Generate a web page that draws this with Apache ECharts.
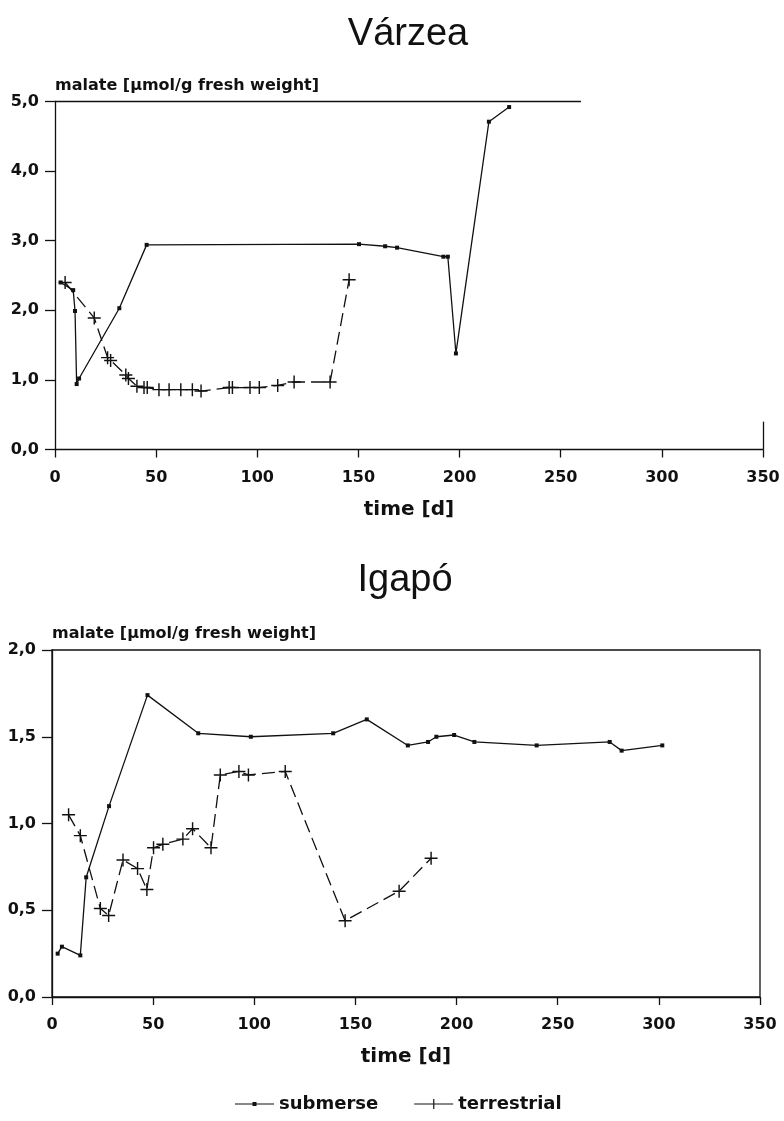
<!DOCTYPE html>
<html>
<head>
<meta charset="utf-8">
<script src="https://cdn.jsdelivr.net/npm/echarts@6/dist/echarts.min.js"></script>
<style>
html,body{margin:0;padding:0;background:#fff;}
#c{width:784px;height:1121px;}
</style>
</head>
<body>
<div id="c"></div>
<script>
// ---- Data ----
const xTicks = [0, 50, 100, 150, 200, 250, 300, 350];

// Várzea – submerse
const varSubDays = [2.8, 9.0, 9.9, 10.7, 11.9, 31.8, 45.3, 150.3, 163.2, 169.1, 192.0, 194.2, 198.2, 214.5, 224.5];
const varSubVals = [2.40, 2.29, 1.99, 0.94, 1.02, 2.03, 2.94, 2.95, 2.92, 2.90, 2.77, 2.77, 1.38, 4.71, 4.92];
// Várzea – terrestrial
const varTerDays = [5.0, 19.4, 26.0, 27.5, 35.0, 36.3, 40.5, 44.0, 45.6, 51.4, 56.4, 62.2, 67.9, 72.2, 86.1, 87.7, 96.4, 101.0, 110.1, 118.2, 136.0, 145.4];
const varTerVals = [2.40, 1.89, 1.32, 1.28, 1.07, 1.02, 0.91, 0.89, 0.89, 0.86, 0.86, 0.86, 0.86, 0.84, 0.89, 0.89, 0.89, 0.89, 0.92, 0.97, 0.97, 2.44];

// Igapó – submerse
const igaSubDays = [2.8, 4.9, 14.0, 16.9, 28.2, 47.2, 72.3, 98.3, 139.0, 155.6, 175.9, 185.9, 190.0, 198.8, 208.8, 239.6, 275.7, 281.6, 301.7];
const igaSubVals = [0.25, 0.29, 0.24, 0.69, 1.10, 1.74, 1.52, 1.50, 1.52, 1.60, 1.45, 1.47, 1.50, 1.51, 1.47, 1.45, 1.47, 1.42, 1.45];
// Igapó – terrestrial
const igaTerDays = [8.2, 14.0, 23.9, 28.0, 35.1, 42.3, 46.9, 50.2, 54.8, 64.7, 69.5, 78.6, 83.2, 92.4, 97.1, 115.3, 144.9, 171.6, 187.4];
const igaTerVals = [1.05, 0.93, 0.51, 0.47, 0.79, 0.74, 0.62, 0.86, 0.88, 0.91, 0.97, 0.86, 1.28, 1.30, 1.28, 1.30, 0.44, 0.61, 0.80];

// Partial frame of the upper panel (in data units)
const varFrameTop = [[0, 5], [260, 5]];
const varFrameRight = [[350, 0], [350, 0.4]];

const titles = ['Várzea', 'Igapó'];
const yName = 'malate [µmol/g fresh weight]';
const xName = 'time [d]';
const seriesNames = ['submerse', 'terrestrial'];

// ---- Build ----
const pairs = (xs, ys) => xs.map((x, i) => [x, ys[i]]);
const FONT = "'DejaVu Sans', 'Liberation Sans', Arial, sans-serif";
const TFONT = "'Liberation Sans', Arial, sans-serif";
const INK = '#111';
const crossPath = 'path://M0,4.45H10V5.55H0Z M4.45,0H5.55V10H4.45Z';
const legendSubIcon = 'path://M0,4.4H39V5.6H0Z M17.5,3H21.5V7H17.5Z M0,0H0.01V0.01H0Z M0,10H0.01V9.99H0Z';
const legendTerIcon = 'path://M0,4.4H39V5.6H0Z M19,0H20.2V10H19Z';

function xAxisCfg(gridIndex) {
  return {
    type: 'value', gridIndex, min: xTicks[0], max: xTicks[xTicks.length - 1], interval: 50,
    name: xName, nameLocation: 'middle', nameGap: 50,
    nameTextStyle: { fontFamily: FONT, fontWeight: 'bold', fontSize: 20, color: INK },
    axisLine: { show: true, onZero: false, lineStyle: { color: INK, width: 1.3 } },
    axisTick: { show: true, inside: false, length: 8, lineStyle: { color: INK, width: 1.3 } },
    axisLabel: { fontFamily: FONT, fontWeight: 'bold', fontSize: 16, color: INK, margin: 20 },
    splitLine: { show: false }
  };
}
function yAxisCfg(gridIndex, max, interval) {
  return {
    type: 'value', gridIndex, min: 0, max, interval,
    name: yName, nameLocation: 'end', nameGap: 8,
    nameTextStyle: { fontFamily: FONT, fontWeight: 'bold', fontSize: 16, color: INK, align: 'left', verticalAlign: 'bottom' },
    axisLine: { show: true, onZero: false, lineStyle: { color: INK, width: 1.3 } },
    axisTick: { show: true, inside: false, length: 10, lineStyle: { color: INK, width: 1.3 } },
    axisLabel: { fontFamily: FONT, fontWeight: 'bold', fontSize: 16, color: INK, margin: 16,
      formatter: v => v.toFixed(1).replace('.', ',') },
    splitLine: { show: false }
  };
}
function subSeries(idx, data, extra) {
  return Object.assign({
    name: seriesNames[0], type: 'line', xAxisIndex: idx, yAxisIndex: idx, data,
    symbol: 'rect', symbolSize: 4, showSymbol: true,
    itemStyle: { color: INK },
    lineStyle: { color: INK, width: 1.3, type: 'solid' },
    animation: false, silent: true
  }, extra || {});
}
function terSeries(idx, data) {
  return {
    name: seriesNames[1], type: 'line', xAxisIndex: idx, yAxisIndex: idx, data,
    symbol: crossPath, symbolSize: 13, showSymbol: true,
    itemStyle: { color: INK },
    lineStyle: { color: INK, width: 1.3, type: [13, 6] },
    animation: false, silent: true
  };
}

const option = {
  backgroundColor: '#fff',
  animation: false,
  textStyle: { fontFamily: FONT },
  grid: [
    { left: 55, right: 21, top: 101.5, bottom: 671.5, show: false },
    { left: 52, right: 24, top: 650, bottom: 124, show: true, borderColor: INK, borderWidth: 1.3, backgroundColor: 'transparent' }
  ],
  xAxis: [xAxisCfg(0), xAxisCfg(1)],
  yAxis: [yAxisCfg(0, 5, 1), yAxisCfg(1, 2, 0.5)],
  legend: {
    bottom: 3, left: 230, itemGap: 36, itemWidth: 39, itemHeight: 12,
    data: [
      { name: seriesNames[0], icon: legendSubIcon },
      { name: seriesNames[1], icon: legendTerIcon }
    ],
    itemStyle: { color: INK, borderWidth: 0 },
    textStyle: { fontFamily: FONT, fontWeight: 'bold', fontSize: 18, color: INK }
  },
  graphic: [
    { type: 'text', x: 408, top: 16, style: { text: titles[0], font: "38px " + TFONT, fill: INK, textAlign: 'center' } },
    { type: 'text', x: 405, top: 562, style: { text: titles[1], font: "38px " + TFONT, fill: INK, textAlign: 'center' } }
  ],
  series: [
    subSeries(0, pairs(varSubDays, varSubVals), {
      markLine: {
        silent: true, symbol: 'none', animation: false,
        label: { show: false },
        lineStyle: { color: INK, width: 1.3, type: 'solid' },
        emphasis: { disabled: true },
        data: [
          [{ coord: varFrameTop[0] }, { coord: varFrameTop[1] }],
          [{ coord: varFrameRight[0] }, { coord: varFrameRight[1] }]
        ]
      }
    }),
    terSeries(0, pairs(varTerDays, varTerVals)),
    subSeries(1, pairs(igaSubDays, igaSubVals)),
    terSeries(1, pairs(igaTerDays, igaTerVals))
  ]
};

const chart = echarts.init(document.getElementById('c'), null, { renderer: 'canvas' });
chart.setOption(option);
</script>
</body>
</html>
